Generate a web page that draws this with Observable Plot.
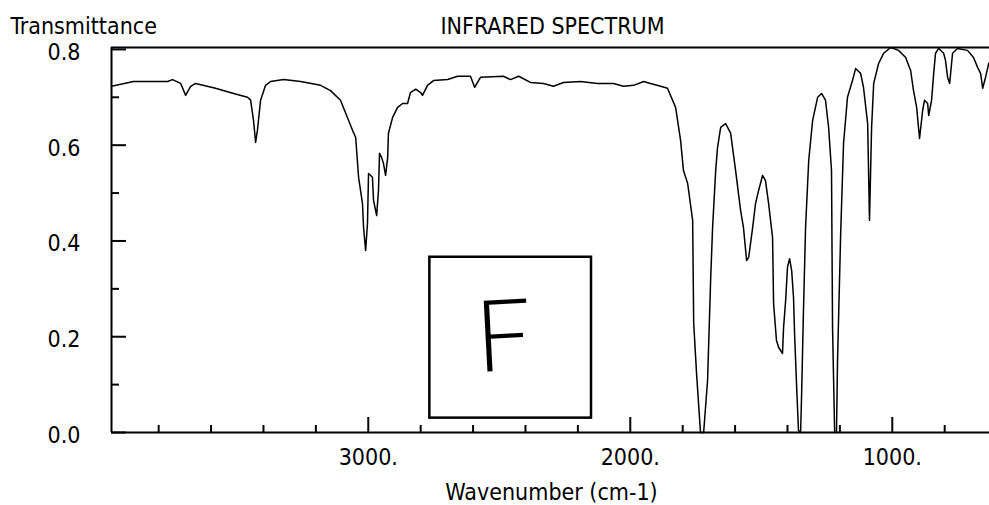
<!DOCTYPE html>
<html><head><meta charset="utf-8">
<script src="https://cdn.jsdelivr.net/npm/d3@7"></script>
<script src="https://cdn.jsdelivr.net/npm/@observablehq/plot@0.6"></script>
<style>
html,body{margin:0;padding:0;background:#fff;}
#chart svg{display:block;}
</style></head><body><div id="chart"></div>
<script>
// Spectrum trace (wavenumber in cm-1, transmittance)
const wavenumber = [3980,3896,3766,3747,3716,3697,3678,3659,3583,3514,3461,3449,3438,3430,3423,3411,3392,3373,3323,3258,3182,3144,3106,3060,3048,3037,3022,3018,3010,3003,2999,2984,2980,2968,2961,2957,2949,2942,2934,2926,2923,2907,2888,2869,2850,2839,2819,2800,2793,2774,2751,2697,2659,2610,2594,2571,2484,2457,2426,2381,2331,2293,2255,2190,2125,2064,2026,1987,1949,1923,1884,1858,1827,1808,1797,1781,1762,1758,1747,1732,1720,1705,1693,1686,1674,1667,1655,1636,1617,1598,1579,1568,1556,1548,1533,1522,1510,1495,1484,1472,1457,1453,1442,1434,1419,1415,1407,1400,1392,1384,1377,1373,1365,1358,1350,1346,1339,1331,1319,1304,1285,1270,1255,1243,1232,1228,1220,1213,1209,1197,1186,1171,1152,1140,1121,1110,1094,1087,1079,1071,1052,1033,1006,976,949,930,919,907,900,896,884,877,865,861,850,842,835,823,804,797,789,781,770,751,713,690,674,663,655,644,632];
const transmittance = [0.723,0.733,0.733,0.737,0.729,0.704,0.723,0.729,0.719,0.708,0.700,0.694,0.652,0.606,0.631,0.694,0.725,0.733,0.737,0.733,0.725,0.714,0.694,0.631,0.616,0.533,0.478,0.428,0.380,0.437,0.541,0.533,0.485,0.453,0.506,0.583,0.574,0.562,0.537,0.574,0.625,0.658,0.679,0.687,0.687,0.710,0.717,0.710,0.704,0.725,0.735,0.737,0.744,0.744,0.721,0.742,0.744,0.737,0.744,0.731,0.729,0.723,0.731,0.733,0.729,0.729,0.723,0.725,0.733,0.729,0.723,0.719,0.679,0.610,0.547,0.520,0.443,0.228,0.123,0.0,0.0,0.109,0.324,0.426,0.547,0.595,0.637,0.645,0.625,0.547,0.464,0.428,0.359,0.366,0.428,0.478,0.506,0.537,0.526,0.478,0.407,0.269,0.192,0.178,0.165,0.219,0.276,0.345,0.363,0.338,0.282,0.207,0.094,0.004,0.0,0.081,0.255,0.428,0.568,0.652,0.700,0.708,0.694,0.637,0.547,0.219,0.0,0.0,0.150,0.416,0.604,0.700,0.735,0.760,0.750,0.721,0.645,0.443,0.637,0.729,0.771,0.792,0.804,0.798,0.783,0.756,0.714,0.679,0.637,0.614,0.673,0.694,0.687,0.662,0.694,0.750,0.792,0.802,0.792,0.777,0.742,0.729,0.792,0.802,0.798,0.783,0.762,0.750,0.719,0.742,0.771];

const yTicksMajor = [0, 0.2, 0.4, 0.6, 0.8];
const yTicksMinor = [0.1, 0.3, 0.5, 0.7];
const xTicksMajor = [3000, 2000, 1000];
const xTicksMinor = [3800, 3600, 3400, 3200, 2800, 2600, 2400, 2200, 1800, 1600, 1400, 1200, 800];
const xDomain = [3980, 629];
const yDomain = [0, 0.804];

const titleText = "INFRARED SPECTRUM";
const yTitleText = "Transmittance";
const xTitleText = "Wavenumber (cm-1)";

// Hand-drawn sample box with its letter (data units)
const sampleBox = [{x1: 2765, x2: 2148, y1: 0.030, y2: 0.366}];
const sampleLabel = [{x: 2484, y: 0.196, text: "F"}];

const W = 989, H = 505, mL = 111, mR = 0, mT = 47, mB = 73;
const innerW = W - mL - mR, innerH = H - mT - mB;
const spectrum = wavenumber.map((w, i) => ({w, t: transmittance[i]}));
const font = '"DejaVu Sans Condensed", "DejaVu Sans", sans-serif';

const chart = Plot.plot({
  width: W, height: H,
  marginLeft: mL, marginRight: mR, marginTop: mT, marginBottom: mB,
  style: {fontFamily: font, fontSize: "23px", color: "#000", background: "#fff", fontStretch: "condensed"},
  x: {domain: xDomain},
  y: {domain: yDomain},
  marks: [
    Plot.axisX(xTicksMajor, {tickSize: 0, tickPadding: 16, tickFormat: d => d + ".", label: null, fontSize: 23}),
    Plot.axisY(yTicksMajor, {tickSize: 0, tickPadding: 31, tickFormat: d3.format(".1f"), label: null, fontSize: 23, dy: 3}),
    Plot.tickX(xTicksMajor, {x: d => d, stroke: "#000", strokeWidth: 2, insetTop: innerH - 15}),
    Plot.tickX(xTicksMinor, {x: d => d, stroke: "#000", strokeWidth: 2, insetTop: innerH - 7}),
    Plot.tickY(yTicksMajor, {y: d => d, stroke: "#000", strokeWidth: 2, insetRight: innerW - 15}),
    Plot.tickY(yTicksMinor, {y: d => d, stroke: "#000", strokeWidth: 2, insetRight: innerW - 8}),
    Plot.ruleX([xDomain[0]], {stroke: "#000", strokeWidth: 2}),
    Plot.ruleY([yDomain[0]], {stroke: "#000", strokeWidth: 2}),
    Plot.ruleY([yDomain[1]], {stroke: "#000", strokeWidth: 2}),
    Plot.rect(sampleBox, {x1: "x1", x2: "x2", y1: "y1", y2: "y2", fill: "none", stroke: "#000", strokeWidth: 2.5}),
    Plot.text(sampleLabel, {x: "x", y: "y", text: "text", fontSize: 100, fontFamily: "Lato", fontWeight: 300, rotate: -3, fill: "#000"}),
    Plot.line(spectrum, {x: "w", y: "t", stroke: "#000", strokeWidth: 1.5}),
    Plot.text([yTitleText], {text: d => d, frameAnchor: "top-left", textAnchor: "start", lineAnchor: "bottom", dx: -101, dy: -14, fontSize: 23, style: "letter-spacing:0.7px"}),
    Plot.text([titleText], {text: d => d, frameAnchor: "top", lineAnchor: "bottom", dx: 2, dy: -14, fontSize: 23}),
    Plot.text([xTitleText], {text: d => d, frameAnchor: "bottom", lineAnchor: "bottom", dx: 1, dy: 67, fontSize: 23})
  ]
});
document.getElementById("chart").appendChild(chart);
</script>
</body></html>
